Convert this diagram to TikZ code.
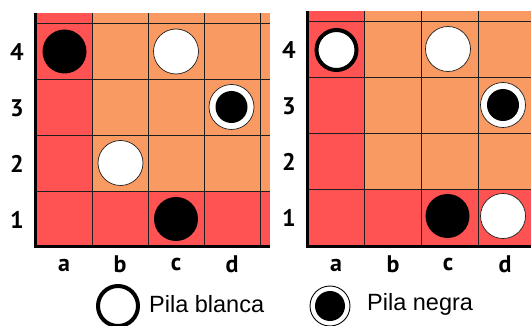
\documentclass[tikz,border=0pt]{standalone}
\usepackage{fontspec}
\setmainfont{Liberation Sans}
\newfontfamily\labfont{PT Sans}
\definecolor{cellred}{RGB}{255,82,82}
\definecolor{cellorange}{RGB}{249,154,98}
\definecolor{gridc}{RGB}{30,30,30}
\begin{document}
\begin{tikzpicture}[x=1pt,y=-1pt,
  gridline/.style={gridc,line width=0.9pt},
  border/.style={black,line width=3pt},
  lab/.style={font=\labfont\bfseries\fontsize{24}{24}\selectfont,inner sep=0pt},
  blackpc/.style={circle,fill=black,minimum size=44pt,inner sep=0pt},
  whitepc/.style={circle,fill=white,draw=gridc,line width=0.7pt,minimum size=45pt,inner sep=0pt},
  ringout/.style={circle,fill=white,draw=gridc,line width=0.7pt,minimum size=45pt,inner sep=0pt},
  ringin/.style={circle,fill=black,minimum size=32pt,inner sep=0pt},
  thickwhite/.style={circle,fill=white,draw=black,line width=4pt,minimum size=40pt,inner sep=0pt},
  legtext/.style={font=\fontsize{23.5}{23.5}\selectfont,anchor=west,inner sep=0pt}]
\useasboundingbox (0,0) rectangle (531,326);
% ---------- left board ----------
\fill[cellorange] (35,13) rectangle (270,247);
\fill[cellred] (35,13) rectangle (92,247);
\fill[cellred] (35,191) rectangle (270,247);
\foreach \x in {92,148,204,260} \draw[gridline] (\x,13) -- (\x,247);
\foreach \y in {23,79,135,191} \draw[gridline] (35,\y) -- (270,\y);
\draw[border] (35,13) -- (35,247) -- (270,247);
% labels
\node[lab] (l4) at (17,52) {4};
\node[lab] (l3) at (17,108) {3};
\node[lab] (l2) at (17,164) {2};
\node[lab] (l1) at (17,220) {1};
\node[lab] (la) at (64,265) {a};
\node[lab] (lb) at (120,264) {b};
\node[lab] (lc) at (176,265) {c};
\node[lab] (ld) at (232,264) {d};
% pieces
\node[blackpc] (La4) at (64.5,51.5) {};
\node[whitepc] (Lc4) at (176,51.5) {};
\node[ringout] (Ld3o) at (231.5,107) {};
\node[ringin] (Ld3i) at (231.5,107) {};
\node[whitepc] (Lb2) at (120.5,163) {};
\node[blackpc] (Lc1) at (176,219) {};
% ---------- right board ----------
\fill[cellorange] (307,11) rectangle (531,247);
\fill[cellred] (307,11) rectangle (364,247);
\fill[cellred] (307,189) rectangle (531,247);
\foreach \x in {364,421,478} \draw[gridline] (\x,11) -- (\x,247);
\foreach \y in {21,77,133,189} \draw[gridline] (307,\y) -- (531,\y);
\draw[border] (307,11) -- (307,247) -- (531,247);
\node[lab] (r4) at (289,50) {4};
\node[lab] (r3) at (289,106) {3};
\node[lab] (r2) at (289,162) {2};
\node[lab] (r1) at (289,218) {1};
\node[lab] (ra) at (336,265) {a};
\node[lab] (rb) at (393,264) {b};
\node[lab] (rc) at (448,265) {c};
\node[lab] (rd) at (505,264) {d};
\node[thickwhite] (Ra4) at (336.5,50) {};
\node[whitepc] (Rc4) at (448,49) {};
\node[ringout] (Rd3o) at (503,105) {};
\node[ringin] (Rd3i) at (503,105) {};
\node[blackpc] (Rc1) at (447.5,216) {};
\node[whitepc] (Rd1) at (503,216) {};
% ---------- legend ----------
\node[thickwhite] (legw) at (118,306) {};
\node[legtext] (legwt) at (149,304) {Pila blanca};
\node[circle,fill=white,draw=black,line width=0.9pt,minimum size=40pt,inner sep=0pt] (legbo) at (330,306) {};
\node[circle,fill=black,minimum size=30pt,inner sep=0pt] (legbi) at (330,306) {};
\node[legtext] (legbt) at (367,304) {Pila negra};
\end{tikzpicture}
\end{document}
